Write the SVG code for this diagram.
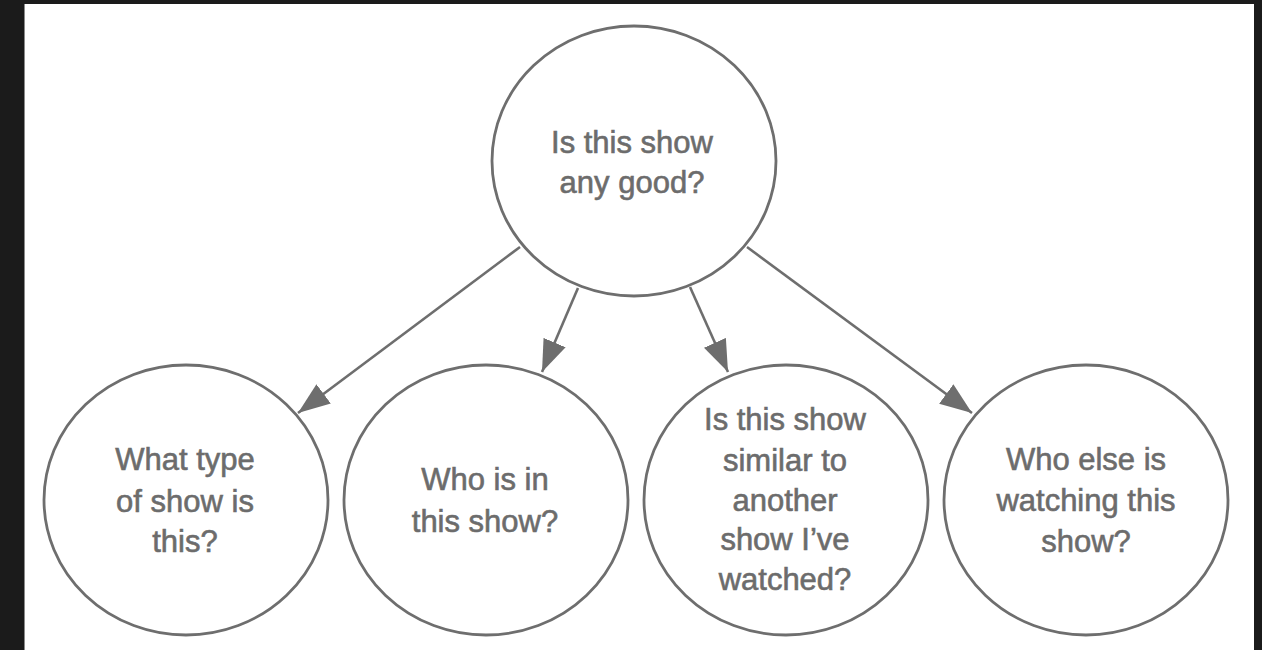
<svg xmlns="http://www.w3.org/2000/svg" width="1262" height="650" viewBox="0 0 1262 650">
  <style>
    .node ellipse { fill: #ffffff; stroke: #6e6e6e; stroke-width: 2.8; }
    .node text { font-family: "Liberation Sans", Arial, sans-serif; font-size: 31px; fill: #6c6c6c; text-anchor: middle; stroke: #6c6c6c; stroke-width: 0.6; }
    .edge { stroke: #6e6e6e; stroke-width: 2.6; fill: none; marker-end: url(#arrow); }
  </style>
  <defs>
    <marker id="arrow" markerUnits="userSpaceOnUse" viewBox="0 0 32 24" markerWidth="32" markerHeight="24" refX="32" refY="12" orient="auto">
      <path d="M0,0 L32,12 L0,24 Z" fill="#6e6e6e"/>
    </marker>
  </defs>

  <!-- page frame -->
  <rect x="0" y="0" width="1262" height="650" fill="#1b1b1b"/>
  <rect x="24" y="4" width="1230" height="646" fill="#ffffff"/>
  <line x1="24.5" y1="4" x2="24.5" y2="650" stroke="#8a8a8a" stroke-width="1"/>

  <!-- connectors -->
  <g id="connectors">
    <line class="edge" x1="520" y1="247" x2="298" y2="413"/>
    <line class="edge" x1="578" y1="288" x2="542" y2="372"/>
    <line class="edge" x1="690" y1="287" x2="728" y2="372"/>
    <line class="edge" x1="747" y1="247" x2="972" y2="413"/>
  </g>

  <!-- root question -->
  <g id="node-good" class="node">
    <ellipse cx="634" cy="161" rx="142" ry="135"/>
    <text x="632" y="153">Is this show</text>
    <text x="632" y="193">any good?</text>
  </g>

  <g id="node-type" class="node">
    <ellipse cx="186" cy="500" rx="142" ry="135"/>
    <text x="185" y="470">What type</text>
    <text x="185" y="512">of show is</text>
    <text x="185" y="552">this?</text>
  </g>

  <g id="node-cast" class="node">
    <ellipse cx="486" cy="500" rx="142" ry="135"/>
    <text x="485" y="490">Who is in</text>
    <text x="485" y="532">this show?</text>
  </g>

  <g id="node-similar" class="node">
    <ellipse cx="786" cy="500" rx="142" ry="135"/>
    <text x="785" y="430">Is this show</text>
    <text x="785" y="471">similar to</text>
    <text x="785" y="511">another</text>
    <text x="785" y="550">show I’ve</text>
    <text x="785" y="590">watched?</text>
  </g>

  <g id="node-audience" class="node">
    <ellipse cx="1086" cy="500" rx="142" ry="135"/>
    <text x="1086" y="470">Who else is</text>
    <text x="1086" y="511">watching this</text>
    <text x="1086" y="552">show?</text>
  </g>
</svg>
